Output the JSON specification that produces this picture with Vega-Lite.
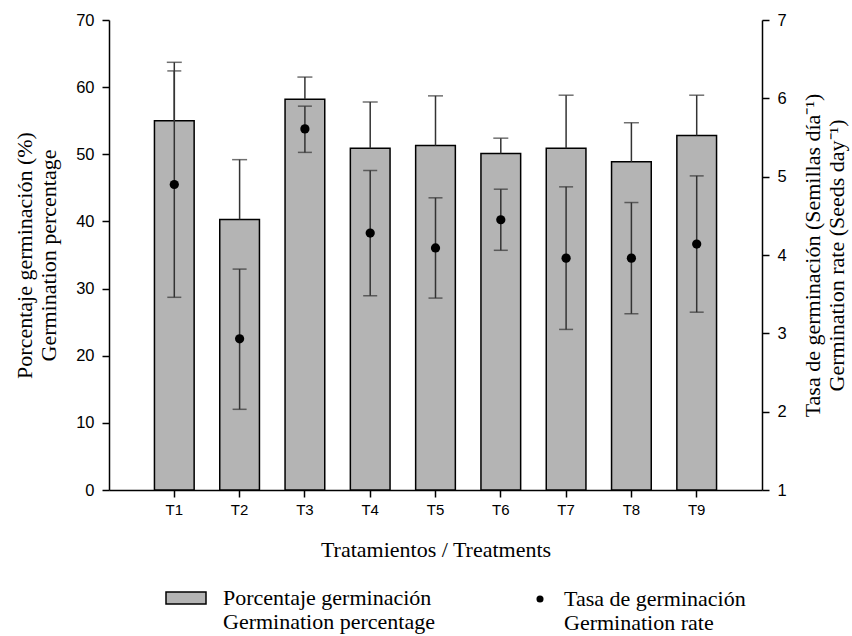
{
  "$schema": "https://vega.github.io/schema/vega-lite/v6.json",
  "width": 653,
  "height": 470,
  "autosize": {"type": "none"},
  "padding": {"left": 109, "top": 20, "right": 90, "bottom": 146},
  "background": "white",
  "config": {
    "view": {"stroke": null},
    "axis": {
      "domainColor": "black", "tickColor": "black", "labelColor": "black", "titleColor": "black",
      "grid": false, "labelFont": "Liberation Sans", "labelFontSize": 16.5,
      "titleFont": "Liberation Serif", "titleFontSize": 22, "titleFontWeight": "normal",
      "domainWidth": 1.5, "tickWidth": 1.5, "tickSize": 7
    }
  },
  "data": {
    "values": [
      {"t": "T1", "pct": 55.0, "pct_hi": 63.7, "rate": 4.90, "rate_lo": 3.46, "rate_hi": 6.35},
      {"t": "T2", "pct": 40.3, "pct_hi": 49.2, "rate": 2.93, "rate_lo": 2.03, "rate_hi": 3.82},
      {"t": "T3", "pct": 58.2, "pct_hi": 61.5, "rate": 5.61, "rate_lo": 5.31, "rate_hi": 5.90},
      {"t": "T4", "pct": 50.9, "pct_hi": 57.8, "rate": 4.28, "rate_lo": 3.48, "rate_hi": 5.08},
      {"t": "T5", "pct": 51.3, "pct_hi": 58.7, "rate": 4.09, "rate_lo": 3.45, "rate_hi": 4.73},
      {"t": "T6", "pct": 50.1, "pct_hi": 52.4, "rate": 4.45, "rate_lo": 4.06, "rate_hi": 4.84},
      {"t": "T7", "pct": 50.9, "pct_hi": 58.8, "rate": 3.96, "rate_lo": 3.05, "rate_hi": 4.87},
      {"t": "T8", "pct": 48.9, "pct_hi": 54.7, "rate": 3.96, "rate_lo": 3.25, "rate_hi": 4.67},
      {"t": "T9", "pct": 52.8, "pct_hi": 58.8, "rate": 4.14, "rate_lo": 3.27, "rate_hi": 5.01}
    ]
  },
  "encoding": {
    "x": {
      "field": "t", "type": "nominal", "sort": null,
      "scale": {"paddingInner": 0.392, "paddingOuter": 0.696},
      "axis": {"title": "Tratamientos / Treatments", "labelAngle": 0, "labelPadding": 5, "titlePadding": 22, "labelFontSize": 15}
    }
  },
  "layer": [
    {
      "layer": [
        {
          "mark": {"type": "bar", "stroke": "black", "strokeWidth": 1.5},
          "encoding": {
            "y": {"field": "pct", "type": "quantitative", "scale": {"domain": [0, 70]},
              "axis": {"orient": "left", "values": [0, 10, 20, 30, 40, 50, 60, 70], "title": ["Porcentaje germinación (%)", "Germination percentage"], "titlePadding": 15, "labelPadding": 8}},
            "fill": {
              "datum": "Porcentaje germinación|Germination percentage", "type": "nominal",
              "scale": {"range": ["#b4b4b4"]},
              "legend": {"orient": "none", "legendX": 56, "legendY": 557, "title": null,
                "symbolType": "M-1,-0.3H1V0.3H-1Z", "symbolSize": 1600, "symbolStrokeColor": "black", "symbolStrokeWidth": 1.5,
                "labelFont": "Liberation Serif", "labelFontSize": 22, "labelColor": "black", "labelLimit": 500, "labelOffset": 16,
                "labelExpr": "split(datum.label, '|')"}
            }
          }
        },
        {
          "mark": {"type": "rule", "color": "#333333", "strokeWidth": 1.5},
          "encoding": {
            "y": {"field": "pct", "type": "quantitative", "scale": {"domain": [0, 70]},
              "axis": {"orient": "left", "values": [0, 10, 20, 30, 40, 50, 60, 70], "title": ["Porcentaje germinación (%)", "Germination percentage"], "titlePadding": 15, "labelPadding": 8}},
            "y2": {"field": "pct_hi"}
          }
        },
        {
          "mark": {"type": "tick", "color": "#333333", "size": 15, "thickness": 1.5},
          "encoding": {
            "y": {"field": "pct_hi", "type": "quantitative", "scale": {"domain": [0, 70]},
              "axis": {"orient": "left", "values": [0, 10, 20, 30, 40, 50, 60, 70], "title": ["Porcentaje germinación (%)", "Germination percentage"], "titlePadding": 15, "labelPadding": 8}}
          }
        }
      ]
    },
    {
      "layer": [
        {
          "mark": {"type": "rule", "color": "#333333", "strokeWidth": 1.5},
          "encoding": {
            "y": {"field": "rate_lo", "type": "quantitative", "scale": {"domain": [1, 7]},
              "axis": {"orient": "right", "values": [1, 2, 3, 4, 5, 6, 7], "title": ["Tasa de germinación (Semillas día⁻¹)", "Germination rate (Seeds day⁻¹)"], "titleAngle": -90, "titlePadding": 14, "labelPadding": 8}},
            "y2": {"field": "rate_hi"}
          }
        },
        {
          "mark": {"type": "tick", "color": "#333333", "size": 14, "thickness": 1.5},
          "encoding": {
            "y": {"field": "rate_lo", "type": "quantitative", "scale": {"domain": [1, 7]},
              "axis": {"orient": "right", "values": [1, 2, 3, 4, 5, 6, 7], "title": ["Tasa de germinación (Semillas día⁻¹)", "Germination rate (Seeds day⁻¹)"], "titleAngle": -90, "titlePadding": 14, "labelPadding": 8}}
          }
        },
        {
          "mark": {"type": "tick", "color": "#333333", "size": 14, "thickness": 1.5},
          "encoding": {
            "y": {"field": "rate_hi", "type": "quantitative", "scale": {"domain": [1, 7]},
              "axis": {"orient": "right", "values": [1, 2, 3, 4, 5, 6, 7], "title": ["Tasa de germinación (Semillas día⁻¹)", "Germination rate (Seeds day⁻¹)"], "titleAngle": -90, "titlePadding": 14, "labelPadding": 8}}
          }
        },
        {
          "mark": {"type": "point", "filled": true, "color": "black", "opacity": 1, "size": 85},
          "encoding": {
            "y": {"field": "rate", "type": "quantitative", "scale": {"domain": [1, 7]},
              "axis": {"orient": "right", "values": [1, 2, 3, 4, 5, 6, 7], "title": ["Tasa de germinación (Semillas día⁻¹)", "Germination rate (Seeds day⁻¹)"], "titleAngle": -90, "titlePadding": 14, "labelPadding": 8}},
            "shape": {
              "datum": "Tasa de germinación|Germination rate", "type": "nominal",
              "scale": {"range": ["circle"]},
              "legend": {"orient": "none", "legendX": 420, "legendY": 568, "title": null,
                "symbolSize": 50, "symbolFillColor": "black", "symbolStrokeColor": "black",
                "labelFont": "Liberation Serif", "labelFontSize": 22, "labelColor": "black", "labelLimit": 500, "labelOffset": 13,
                "labelExpr": "split(datum.label, '|')"}
            }
          }
        }
      ]
    }
  ],
  "resolve": {"scale": {"y": "independent"}}
}
